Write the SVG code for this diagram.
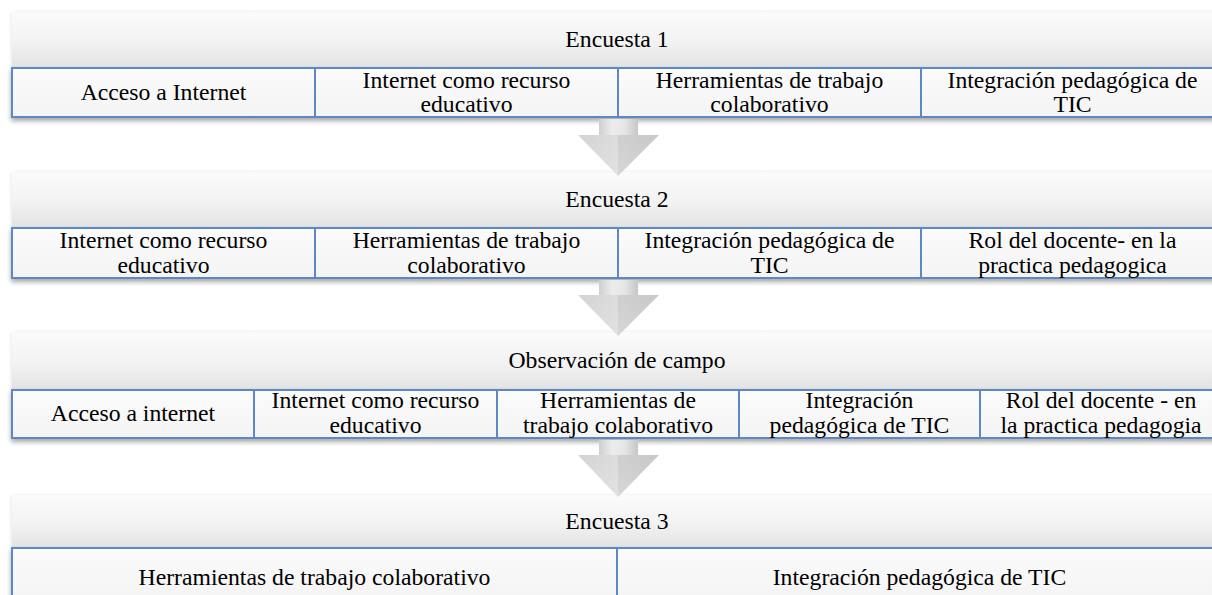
<svg xmlns="http://www.w3.org/2000/svg" width="1212" height="595" viewBox="0 0 1212 595">
<defs>
<linearGradient id="hdr" x1="0" y1="0" x2="0" y2="1">
<stop offset="0" stop-color="#fbfbfb"/>
<stop offset="0.55" stop-color="#f2f2f2"/>
<stop offset="1" stop-color="#e2e2e2"/>
</linearGradient>
<linearGradient id="cell" x1="0" y1="0" x2="0" y2="1">
<stop offset="0" stop-color="#fbfbfb"/>
<stop offset="1" stop-color="#f4f4f4"/>
</linearGradient>
<linearGradient id="shaft" x1="0" y1="0" x2="1" y2="0">
<stop offset="0" stop-color="#cfcfcf"/>
<stop offset="0.35" stop-color="#ececec"/>
<stop offset="0.65" stop-color="#e6e6e6"/>
<stop offset="1" stop-color="#c6c6c6"/>
</linearGradient>
<linearGradient id="headL" x1="0" y1="0" x2="1" y2="1">
<stop offset="0" stop-color="#d4d4d4"/>
<stop offset="1" stop-color="#e2e2e2"/>
</linearGradient>
<linearGradient id="headR" x1="1" y1="0" x2="0" y2="1">
<stop offset="0" stop-color="#c8c8c8"/>
<stop offset="1" stop-color="#d6d6d6"/>
</linearGradient>
<filter id="sh" x="-5%" y="-30%" width="110%" height="170%">
<feGaussianBlur in="SourceAlpha" stdDeviation="2.5"/>
<feOffset dx="0" dy="3" result="b"/>
<feComponentTransfer><feFuncA type="linear" slope="0.35"/></feComponentTransfer>
<feMerge><feMergeNode/><feMergeNode in="SourceGraphic"/></feMerge>
</filter>
<filter id="shl" x="-5%" y="-30%" width="110%" height="170%">
<feGaussianBlur in="SourceAlpha" stdDeviation="2"/>
<feOffset dx="0" dy="1" result="b"/>
<feComponentTransfer><feFuncA type="linear" slope="0.15"/></feComponentTransfer>
<feMerge><feMergeNode/><feMergeNode in="SourceGraphic"/></feMerge>
</filter>
</defs>
<style>
.hdr{fill:url(#hdr);filter:url(#shl)}
.cell{fill:url(#cell);stroke:#5b88c8;stroke-width:2}
.row{filter:url(#sh)}
text{font-family:"Liberation Serif","Times New Roman",serif;font-size:23.7px;fill:#000;text-anchor:middle}
</style>
<rect width="1212" height="595" fill="#ffffff"/>

<g id="row1">
<g id="encuesta1"><rect class="hdr" x="12" y="12" width="1210" height="56"/><text x="617" y="47">Encuesta 1</text></g>
<g class="row">
<rect class="cell" x="12" y="68" width="303" height="49"/>
<rect class="cell" x="315" y="68" width="303" height="49"/>
<rect class="cell" x="618" y="68" width="303" height="49"/>
<rect class="cell" x="921" y="68" width="303" height="49"/>
</g>
<g id="e1c1"><text x="163.5" y="100">Acceso a Internet</text></g>
<g id="e1c2"><text x="466.5" y="88">Internet como recurso</text><text x="466.5" y="112">educativo</text></g>
<g id="e1c3"><text x="769.5" y="88">Herramientas de trabajo</text><text x="769.5" y="112">colaborativo</text></g>
<g id="e1c4"><text x="1072.5" y="88">Integración pedagógica de</text><text x="1072.5" y="112">TIC</text></g>
</g>

<g id="row2">
<g id="encuesta2"><rect class="hdr" x="12" y="172" width="1210" height="56"/><text x="617" y="207">Encuesta 2</text></g>
<g class="row">
<rect class="cell" x="12" y="228" width="303" height="50"/>
<rect class="cell" x="315" y="228" width="303" height="50"/>
<rect class="cell" x="618" y="228" width="303" height="50"/>
<rect class="cell" x="921" y="228" width="303" height="50"/>
</g>
<g id="e2c1"><text x="163.5" y="248">Internet como recurso</text><text x="163.5" y="273">educativo</text></g>
<g id="e2c2"><text x="466.5" y="248">Herramientas de trabajo</text><text x="466.5" y="273">colaborativo</text></g>
<g id="e2c3"><text x="769.5" y="248">Integración pedagógica de</text><text x="769.5" y="273">TIC</text></g>
<g id="e2c4"><text x="1072.5" y="248">Rol del docente- en la</text><text x="1072.5" y="273">practica pedagogica</text></g>
</g>

<g id="row3">
<g id="observacion"><rect class="hdr" x="12" y="332" width="1210" height="58"/><text x="617" y="368">Observación de campo</text></g>
<g class="row">
<rect class="cell" x="12" y="390" width="242" height="48"/>
<rect class="cell" x="254" y="390" width="243" height="48"/>
<rect class="cell" x="497" y="390" width="242" height="48"/>
<rect class="cell" x="739" y="390" width="241" height="48"/>
<rect class="cell" x="980" y="390" width="242" height="48"/>
</g>
<g id="o1"><text x="133" y="421">Acceso a internet</text></g>
<g id="o2"><text x="375.5" y="408">Internet como recurso</text><text x="375.5" y="433">educativo</text></g>
<g id="o3"><text x="618" y="408">Herramientas de</text><text x="618" y="433">trabajo colaborativo</text></g>
<g id="o4"><text x="859.5" y="408">Integración</text><text x="859.5" y="433">pedagógica de TIC</text></g>
<g id="o5"><text x="1101" y="408">Rol del docente - en</text><text x="1101" y="433">la practica pedagogia</text></g>
</g>

<g id="row4">
<g id="encuesta3"><rect class="hdr" x="12" y="495" width="1210" height="53"/><text x="617" y="529">Encuesta 3</text></g>
<g class="row">
<rect class="cell" x="12" y="548" width="605" height="52"/>
<rect class="cell" x="617" y="548" width="605" height="52"/>
</g>
<g id="e3c1"><text x="314.5" y="585">Herramientas de trabajo colaborativo</text></g>
<g id="e3c2"><text x="919.5" y="585">Integración pedagógica de TIC</text></g>
</g>

<g id="connectors">
<g id="arrow1">
<rect x="599" y="119" width="39" height="17" fill="url(#shaft)"/>
<polygon points="578,135 618,135 618,176" fill="url(#headL)"/>
<polygon points="618,135 659,135 618,176" fill="url(#headR)"/>
</g>
<g id="arrow2">
<rect x="599" y="280" width="39" height="16" fill="url(#shaft)"/>
<polygon points="578,295 618,295 618,336" fill="url(#headL)"/>
<polygon points="618,295 659,295 618,336" fill="url(#headR)"/>
</g>
<g id="arrow3">
<rect x="599" y="440" width="39" height="16" fill="url(#shaft)"/>
<polygon points="578,455 618,455 618,497" fill="url(#headL)"/>
<polygon points="618,455 659,455 618,497" fill="url(#headR)"/>
</g>
</g>
</svg>
